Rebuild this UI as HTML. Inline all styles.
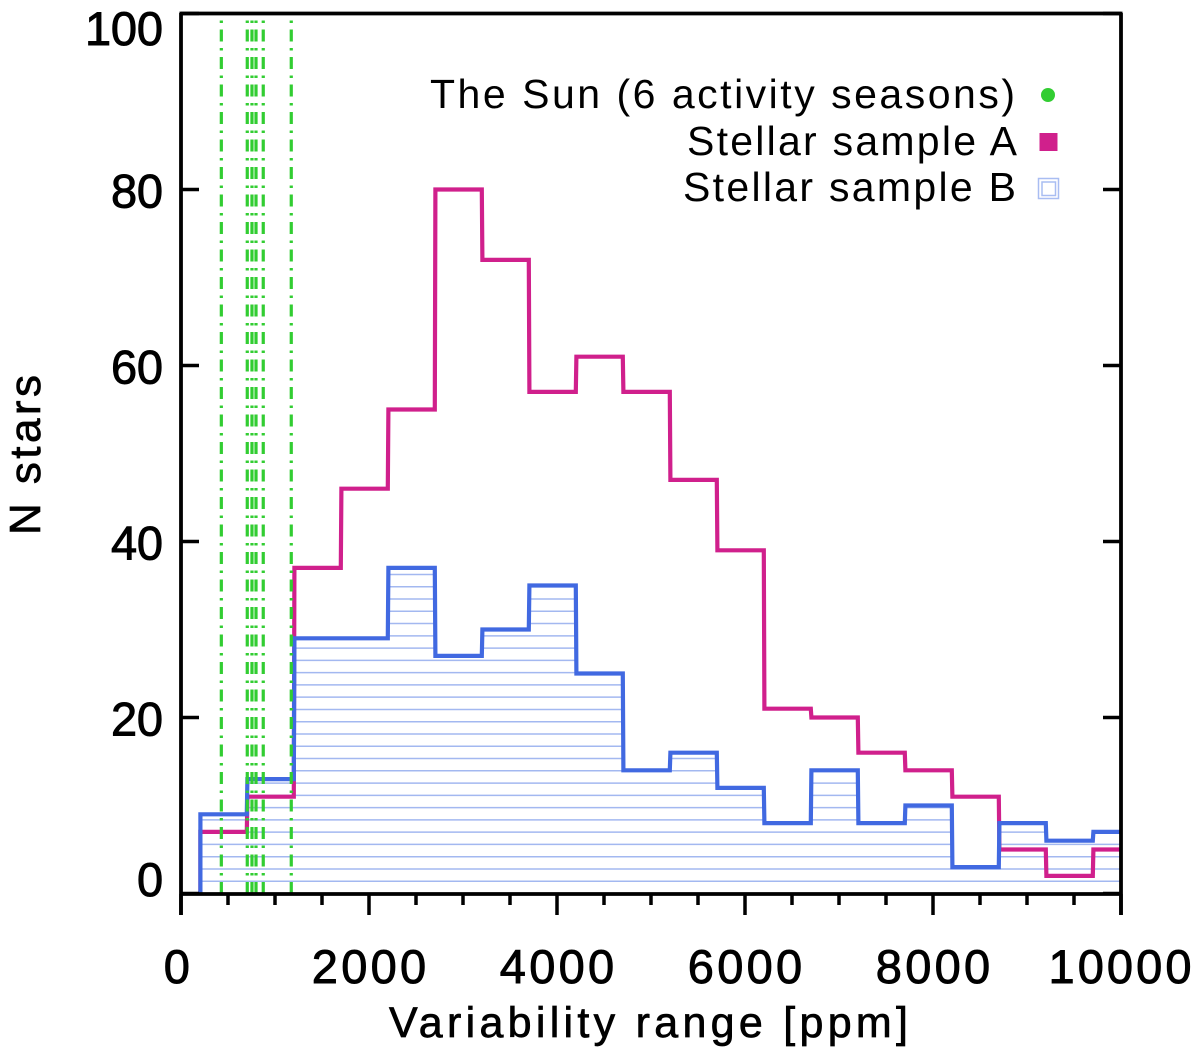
<!DOCTYPE html>
<html lang="en">
<head>
<meta charset="utf-8">
<title>Variability range histogram</title>
<style>
html,body{margin:0;padding:0;background:#fff;}
svg{display:block;}
text{font-family:"Liberation Sans",sans-serif;fill:#000;}
</style>
</head>
<body>
<svg id="chart" xmlns="http://www.w3.org/2000/svg" width="1200" height="1064" viewBox="0 0 1200 1064">
  <defs><clipPath id="hatch-clip"><path id="hatch-clip-path"/></clipPath></defs>
  <g id="hatch" clip-path="url(#hatch-clip)"></g>
  <g id="series"></g>
  <g id="sun"></g>
  <g id="axes"></g>
  <g id="labels"></g>
  <text x="389" y="1037" font-size="43" stroke="#000" stroke-width="0.7" textLength="519" lengthAdjust="spacing">Variability range [ppm]</text>
  <text transform="translate(40,535) rotate(-90)" font-size="44" stroke="#000" stroke-width="0.7" textLength="160" lengthAdjust="spacing">N stars</text>
  <g>
    <text x="430" y="108" font-size="41" textLength="585" lengthAdjust="spacing">The Sun (6 activity seasons)</text>
    <circle cx="1048" cy="95" r="7" fill="#32cd32"/>
    <text x="687" y="155" font-size="41" textLength="330" lengthAdjust="spacing">Stellar sample A</text>
    <rect x="1039.5" y="133" width="18" height="18" fill="#d0208c"/>
    <text x="683" y="201" font-size="41" textLength="333" lengthAdjust="spacing">Stellar sample B</text>
    <g fill="none" stroke="#a9bdf2" stroke-width="1.5">
      <rect x="1038.5" y="178.5" width="20" height="20"/>
      <rect x="1042" y="182" width="13.5" height="13.5"/>
    </g>
  </g>
</svg>
<script>
const binStarts = [200,700,1200,1700,2200,2700,3200,3700,4200,4700,5200,5700,6200,6700,7200,7700,8200,8700,9200,9700];
const binLastEnd = 10000;
const sampleA = [7,11,37,46,55,80,72,57,61,57,47,39,21,20,16,14,11,5,2,5];
const sampleB = [9,13,29,29,37,27,30,35,25,14,16,12,8,14,8,10,3,8,6,7];
const sunSeasons = [429,705,755,798,875,1173];
const xTickLabels = [0,2000,4000,6000,8000,10000];
const xMinorTicks = [500,1000,1500,2500,3000,3500,4500,5000,5500,6500,7000,7500,8500,9000,9500];
const yTickLabels = [0,20,40,60,80,100];

const NS = 'http://www.w3.org/2000/svg';
const xScale = v => 181 + v * 0.094;
const yScale = v => 893.5 - v * 8.8;
const seriesX = v => xScale(v) + 0.6;

function make(parent, tag, attrs) {
  const el = document.createElementNS(NS, tag);
  for (const k in attrs) el.setAttribute(k, attrs[k]);
  parent.appendChild(el);
  return el;
}

function stepPath(values) {
  let d = 'M' + seriesX(binStarts[0]) + ' ' + yScale(0);
  values.forEach((v, i) => {
    const end = i + 1 < binStarts.length ? binStarts[i + 1] : binLastEnd;
    d += 'L' + seriesX(binStarts[i]) + ' ' + yScale(v) + 'L' + xScale(end) + ' ' + yScale(v);
  });
  return d;
}

document.getElementById('hatch-clip-path').setAttribute('d', stepPath(sampleB) + 'L' + xScale(binLastEnd) + ' ' + yScale(0) + 'Z');

const hatchGroup = document.getElementById('hatch');
for (let y = yScale(0) - 12.27; y > yScale(40); y -= 12.27) {
  const hatchLine = make(hatchGroup, 'line', {x1: xScale(0), x2: xScale(binLastEnd), y1: y, y2: y, stroke: '#a3b8f0', 'stroke-width': 1.5});
  
  
}

const seriesGroup = document.getElementById('series');
const lineA = make(seriesGroup, 'path', {d: stepPath(sampleA), fill: 'none', stroke: '#d0208c', 'stroke-width': 4.2, 'stroke-linejoin': 'miter'});


const lineB = make(seriesGroup, 'path', {d: stepPath(sampleB), fill: 'none', stroke: '#4169e1', 'stroke-width': 4.2, 'stroke-linejoin': 'miter'});



const sunGroup = document.getElementById('sun');
sunSeasons.forEach(v => {
  const sunLine = make(sunGroup, 'line', {x1: xScale(v), x2: xScale(v), y1: 894, y2: 18, stroke: '#32cd32', 'stroke-width': 3.2, 'stroke-dasharray': '12 6.5 2.5 6.5'});
  
  
});

const axesGroup = document.getElementById('axes');
const frame = [
  [181, 13, 181, 915, 'left-axis'],
  [1121, 13, 1121, 915, 'right-axis'],
  [179.5, 13.5, 1122.5, 13.5, 'top-axis'],
  [179.5, 894, 1122.5, 894, 'bottom-axis']
];
frame.forEach(f => {
  const axisLine = make(axesGroup, 'line', {x1: f[0], y1: f[1], x2: f[2], y2: f[3], stroke: '#000', 'stroke-width': 3.8});
  
  
});
xTickLabels.forEach(v => {
  const t = make(axesGroup, 'line', {x1: xScale(v), x2: xScale(v), y1: 894, y2: 915, stroke: '#000', 'stroke-width': 3.5});
  
  
});
xMinorTicks.forEach(v => {
  const t = make(axesGroup, 'line', {x1: xScale(v), x2: xScale(v), y1: 894, y2: 905, stroke: '#000', 'stroke-width': 3.5});
  
  
});
yTickLabels.forEach(v => {
  const left = make(axesGroup, 'line', {x1: 181, x2: 199, y1: yScale(v), y2: yScale(v), stroke: '#000', 'stroke-width': 3.5});
  
  
  const right = make(axesGroup, 'line', {x1: 1103, x2: 1121, y1: yScale(v), y2: yScale(v), stroke: '#000', 'stroke-width': 3.5});
  
  
});

const labelGroup = document.getElementById('labels');
xTickLabels.forEach(v => {
  const s = String(v);
  const w = s.length * 28.6;
  const cx = v === 0 ? 178 : v === 10000 ? 1120 : xScale(v);
  const xl = make(labelGroup, 'text', {x: cx - w / 2, y: 983, 'font-size': 47, stroke: '#000', 'stroke-width': 0.9, textLength: w, lengthAdjust: 'spacing'});
  
  
  xl.textContent = s;
});
yTickLabels.forEach(v => {
  const s = String(v);
  const w = s.length * 26;
  const by = v === 0 ? 896 : v === 100 ? 45 : yScale(v) + 18;
  const yl = make(labelGroup, 'text', {x: 163 - w, y: by, 'font-size': 47, stroke: '#000', 'stroke-width': 0.9, textLength: w, lengthAdjust: 'spacing'});
  
  
  yl.textContent = s;
});
</script>
</body>
</html>
